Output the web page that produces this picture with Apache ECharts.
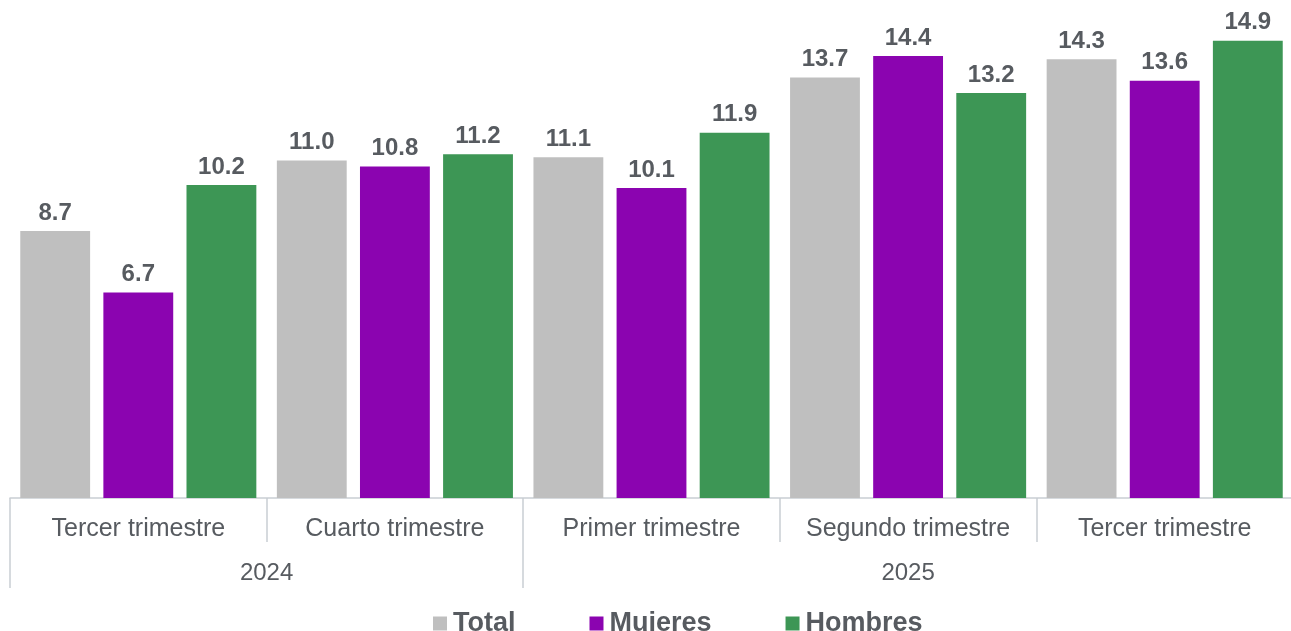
<!DOCTYPE html>
<html>
<head>
<meta charset="utf-8">
<script src="https://cdn.jsdelivr.net/npm/echarts@6/dist/echarts.min.js"></script>
<style>
  html, body { margin: 0; padding: 0; background: #fff; }
  #chart { width: 1291px; height: 631px; }
</style>
</head>
<body>
<div id="chart"></div>
<script>
// trimestres y años
var quarters = ['Tercer trimestre', 'Cuarto trimestre', 'Primer trimestre', 'Segundo trimestre', 'Tercer trimestre'];
// eje de años: 11 puntos en medios trimestres, etiqueta en el centro de cada grupo
var yearSlots = ['', '', '2024', '', '', '', '', '2025', '', '', ''];
var yearBounds = [0, 4, 10];

var total = [8.7, 11.0, 11.1, 13.7, 14.3];
var mujeres = [6.7, 10.8, 10.1, 14.4, 13.6];
var hombres = [10.2, 11.2, 11.9, 13.2, 14.9];

var font = '"Liberation Sans", Arial, sans-serif';
var textColor = '#575b60';
var lineColor = '#c9ced3';

var chart = echarts.init(document.getElementById('chart'));

function barSeries(name, data, color) {
  return {
    name: name,
    type: 'bar',
    data: data,
    barGap: '19%',
    barCategoryGap: '8%',
    itemStyle: { color: color },
    label: {
      show: true,
      position: 'top',
      distance: 6,
      color: textColor,
      fontFamily: font,
      fontWeight: 'bold',
      fontSize: 24,
      formatter: function (p) { return p.value.toFixed(1); }
    }
  };
}

chart.setOption({
  animation: false,
  grid: { left: 10, right: -2, top: 7, bottom: 133, outerBoundsMode: 'none' },
  legend: {
    left: 428,
    top: 605,
    icon: 'rect',
    itemWidth: 14,
    itemHeight: 14,
    itemGap: 74,
    textStyle: { color: textColor, fontFamily: font, fontWeight: 'bold', fontSize: 27, padding: [0, 0, 0, 1] },
    data: ['Total', 'Mujeres', 'Hombres']
  },
  xAxis: [
    {
      type: 'category',
      data: quarters,
      axisLine: { lineStyle: { color: lineColor, width: 1.5 } },
      axisTick: { show: true, interval: 0, length: 44, lineStyle: { color: lineColor, width: 1.5 } },
      axisLabel: { interval: 0, margin: 19, color: textColor, fontFamily: font, fontSize: 25 }
    },
    {
      type: 'category',
      position: 'bottom',
      data: yearSlots,
      boundaryGap: false,
      axisLine: { show: false },
      axisTick: {
        show: true,
        length: 90,
        interval: function (i) { return yearBounds.indexOf(i) >= 0; },
        lineStyle: { color: lineColor, width: 1.5 }
      },
      axisLabel: { interval: 0, margin: 63, color: textColor, fontFamily: font, fontSize: 24 }
    }
  ],
  yAxis: { type: 'value', min: 0, max: 16, show: false },
  series: [
    barSeries('Total', total, '#bfbfbf'),
    barSeries('Mujeres', mujeres, '#8b04b0'),
    barSeries('Hombres', hombres, '#3d9655')
  ]
});
</script>
</body>
</html>
